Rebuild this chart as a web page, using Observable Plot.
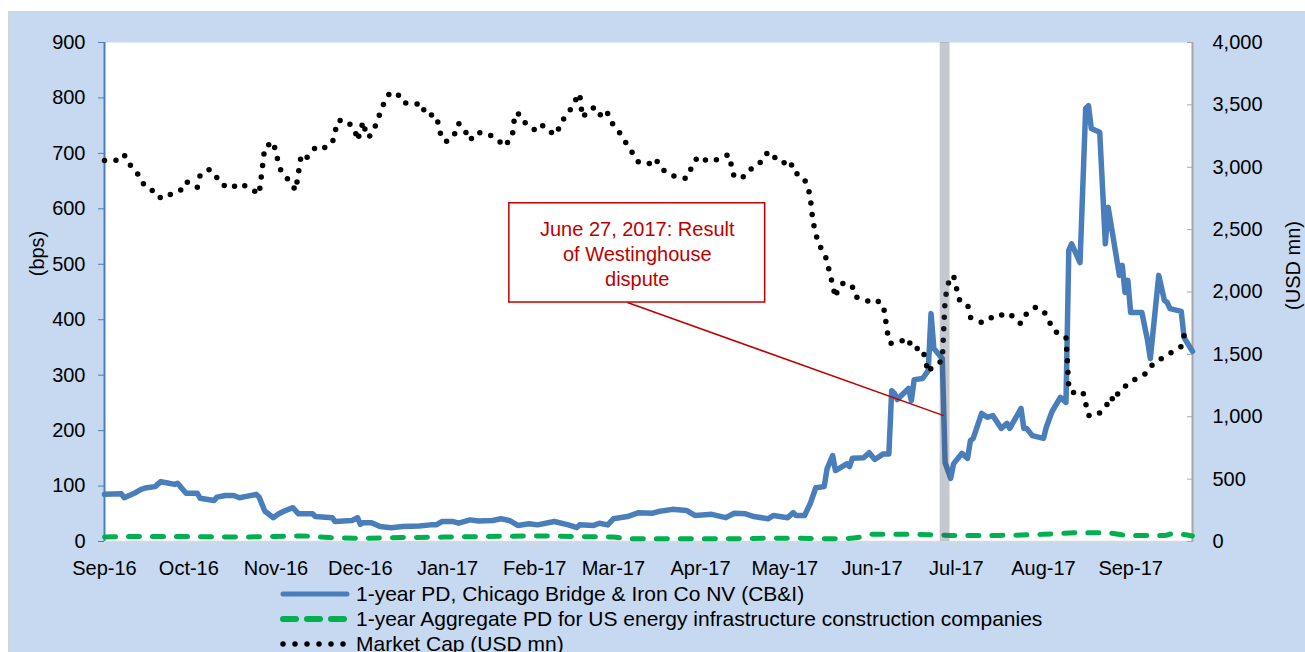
<!DOCTYPE html>
<html>
<head>
<meta charset="utf-8">
<script src="https://cdn.jsdelivr.net/npm/d3@7"></script>
<script src="https://cdn.jsdelivr.net/npm/@observablehq/plot@0.6"></script>
<style>
  html, body { margin: 0; padding: 0; background: #ffffff; width: 1305px; height: 652px; overflow: hidden; }
  #box { position: absolute; left: 8px; top: 11px; width: 1297px; height: 641px; background: #c6d9f1;
         box-shadow: inset 1px 1px 0 #d4d4d4; font-family: "Liberation Sans", Arial, sans-serif; }
  #chart { position: absolute; left: 0; top: 0; }
  #legend { position: absolute; left: 272px; top: 570px; font-size: 21px; color: #000; }
  .row { display: flex; align-items: center; height: 25px; white-space: nowrap; }
  .row svg { width: 70px; height: 12px; margin-right: 6px; flex: none; }
</style>
</head>
<body>
<div id="box">
  <div id="chart"></div>
  <div id="legend"></div>
</div>
<script>
// ---------- Data ----------
const seriesNames = [
  "1-year PD, Chicago Bridge & Iron Co NV (CB&I)",
  "1-year Aggregate PD for US energy infrastructure construction companies",
  "Market Cap (USD mn)"
];

const pdDates = [
  "2016-09-01","2016-09-07","2016-09-08","2016-09-12","2016-09-14","2016-09-16","2016-09-19","2016-09-21","2016-09-23","2016-09-26",
  "2016-09-27","2016-09-30","2016-10-04","2016-10-05","2016-10-10","2016-10-11","2016-10-14","2016-10-17","2016-10-19","2016-10-21",
  "2016-10-25","2016-10-26","2016-10-28","2016-10-31","2016-11-02","2016-11-04","2016-11-07","2016-11-09","2016-11-14","2016-11-15",
  "2016-11-21","2016-11-22","2016-11-28","2016-11-30","2016-12-01","2016-12-02","2016-12-05","2016-12-08","2016-12-12","2016-12-16",
  "2016-12-22","2016-12-26","2016-12-28","2016-12-30","2017-01-03","2017-01-05","2017-01-09","2017-01-12","2017-01-17","2017-01-20",
  "2017-01-23","2017-01-26","2017-01-30","2017-02-02","2017-02-08","2017-02-13","2017-02-16","2017-02-17","2017-02-22","2017-02-24",
  "2017-02-27","2017-03-01","2017-03-06","2017-03-10","2017-03-15","2017-03-17","2017-03-22","2017-03-27","2017-03-30","2017-04-05",
  "2017-04-10","2017-04-13","2017-04-17","2017-04-20","2017-04-25","2017-04-27","2017-05-02","2017-05-04","2017-05-05","2017-05-08",
  "2017-05-10","2017-05-12","2017-05-15","2017-05-16","2017-05-18","2017-05-19","2017-05-23","2017-05-24","2017-05-25","2017-05-29",
  "2017-05-31","2017-06-02","2017-06-05","2017-06-07","2017-06-08","2017-06-09","2017-06-10","2017-06-14","2017-06-15","2017-06-16",
  "2017-06-19","2017-06-21","2017-06-22","2017-06-23","2017-06-26","2017-06-27","2017-06-29","2017-06-30","2017-07-03","2017-07-05",
  "2017-07-06","2017-07-07","2017-07-10","2017-07-12","2017-07-14","2017-07-17","2017-07-19","2017-07-20","2017-07-24","2017-07-25",
  "2017-07-26","2017-07-28","2017-08-01","2017-08-02","2017-08-04","2017-08-07","2017-08-09","2017-08-10","2017-08-11","2017-08-14",
  "2017-08-16","2017-08-17","2017-08-18","2017-08-21","2017-08-23","2017-08-24","2017-08-28","2017-08-29","2017-08-30","2017-08-31",
  "2017-09-01","2017-09-05","2017-09-07","2017-09-08","2017-09-11","2017-09-13","2017-09-14","2017-09-15","2017-09-19","2017-09-20",
  "2017-09-23"
];
const pdValues = [
  85,86,79,88,94,97,99,108,106,103,
  105,87,87,78,74,80,83,83,79,81,
  85,80,55,43,50,55,61,50,50,45,
  43,36,38,43,31,34,34,27,25,27,
  28,30,30,36,36,33,39,37,38,41,
  38,29,32,30,36,30,25,30,29,33,
  30,41,45,52,51,54,58,56,47,49,
  43,51,50,45,41,47,43,52,47,47,
  68,97,99,131,155,128,140,135,150,151,
  160,148,158,158,272,267,256,276,254,292,
  294,308,411,348,330,142,114,140,159,150,
  182,186,231,224,227,204,213,204,240,204,
  204,191,186,206,234,260,251,525,537,503,
  781,786,745,738,537,603,480,498,449,471,
  413,413,363,330,480,435,431,420,415,368,
  343
];

const aggDates = [
  "2016-09-01","2016-09-15","2016-10-01","2016-10-15","2016-11-01","2016-11-10","2016-11-20","2016-12-01","2016-12-15","2017-01-01",
  "2017-01-15","2017-02-01","2017-02-15","2017-03-01","2017-03-06","2017-03-20","2017-04-10","2017-05-01","2017-05-20","2017-05-28",
  "2017-06-01","2017-06-15","2017-07-01","2017-07-15","2017-08-01","2017-08-15","2017-08-22","2017-09-01","2017-09-13","2017-09-16",
  "2017-09-23"
];
const aggValues = [
  8,9,9,8,9,10,7,6,7,8,
  9,10,9,8,5,5,5,6,5,8,
  13,13,11,11,13,16,16,11,11,14,
  10
];

const capDates = [
  "2016-09-01","2016-09-05","2016-09-08","2016-09-09","2016-09-12","2016-09-14","2016-09-16","2016-09-20","2016-09-21","2016-09-23",
  "2016-09-26","2016-09-28","2016-09-30","2016-10-04","2016-10-05","2016-10-08","2016-10-10","2016-10-12","2016-10-16","2016-10-19",
  "2016-10-23","2016-10-26","2016-10-28","2016-10-31","2016-11-01","2016-11-02","2016-11-03","2016-11-06","2016-11-08","2016-11-10",
  "2016-11-12","2016-11-15","2016-11-17","2016-11-21","2016-11-23","2016-11-26","2016-11-29","2016-11-30","2016-12-02","2016-12-03",
  "2016-12-04","2016-12-06","2016-12-09","2016-12-11","2016-12-14","2016-12-16","2016-12-20","2016-12-23","2016-12-24","2016-12-28",
  "2016-12-30","2017-01-01","2017-01-04","2017-01-05","2017-01-07","2017-01-09","2017-01-11","2017-01-15","2017-01-19","2017-01-21",
  "2017-01-24","2017-01-25","2017-01-27","2017-01-29","2017-02-02","2017-02-04","2017-02-07","2017-02-09","2017-02-10","2017-02-13",
  "2017-02-15","2017-02-17","2017-02-18","2017-02-21","2017-02-23","2017-02-25","2017-02-27","2017-03-01","2017-03-04","2017-03-06",
  "2017-03-08","2017-03-10","2017-03-14","2017-03-16","2017-03-18","2017-03-21","2017-03-24","2017-03-27","2017-03-29","2017-03-31",
  "2017-04-04","2017-04-07","2017-04-11","2017-04-12","2017-04-13","2017-04-17","2017-04-20","2017-04-23","2017-04-25","2017-04-27",
  "2017-04-30","2017-05-03","2017-05-04","2017-05-07","2017-05-09","2017-05-10","2017-05-11","2017-05-12","2017-05-13","2017-05-15",
  "2017-05-16","2017-05-17","2017-05-18","2017-05-19","2017-05-20","2017-05-22","2017-05-25","2017-05-26","2017-05-29","2017-05-31",
  "2017-06-02","2017-06-05","2017-06-07","2017-06-08","2017-06-11","2017-06-14","2017-06-15","2017-06-19","2017-06-21","2017-06-22",
  "2017-06-26","2017-06-27","2017-06-28","2017-06-29","2017-06-30","2017-07-01","2017-07-02","2017-07-04","2017-07-05","2017-07-06",
  "2017-07-10","2017-07-13","2017-07-15","2017-07-18","2017-07-20","2017-07-23","2017-07-24","2017-07-26","2017-07-29","2017-08-01",
  "2017-08-03","2017-08-05","2017-08-08","2017-08-09","2017-08-10","2017-08-11","2017-08-15","2017-08-16","2017-08-17","2017-08-20",
  "2017-08-23","2017-08-25","2017-08-26","2017-08-28","2017-08-30","2017-09-01","2017-09-04","2017-09-07","2017-09-09","2017-09-12",
  "2017-09-16","2017-09-19","2017-09-20"
];
const capValues = [
  3054,3054,3102,3038,2982,2894,2830,2798,2750,2766,
  2798,2814,2886,2838,2934,2982,2958,2870,2830,2870,
  2830,2782,3158,3206,3118,3022,2958,2886,2814,3102,
  3078,3158,3142,3190,3375,3375,3303,3214,3367,3271,
  3238,3311,3495,3583,3599,3519,3503,3511,3423,3415,
  3222,3206,3279,3351,3303,3214,3279,3271,3222,3166,
  3238,3431,3423,3343,3287,3335,3279,3263,3351,3431,
  3519,3591,3400,3471,3479,3391,3431,3335,3255,3174,
  3110,3038,3030,3070,2990,2942,2918,2910,3006,3086,
  3046,3062,3102,3014,2918,2926,3014,3046,3126,3086,
  3030,3054,2958,2934,2862,2766,2565,2469,2381,2317,
  2245,2148,2060,1956,2036,2076,2044,1964,1940,1924,
  1940,1900,1603,1587,1603,1627,1547,1547,1355,1387,
  1451,1940,2060,2116,2132,2036,1940,1908,1900,1796,
  1756,1796,1788,1828,1828,1756,1747,1828,1876,1852,
  1764,1683,1651,1640,1230,1194,1202,1106,1010,1010,
  1074,1162,1122,1210,1242,1283,1315,1355,1427,1467,
  1523,1563,1650
];

const xStart = "2016-09-01";
const xEnd = "2017-09-23";
const leftTicks = [0,100,200,300,400,500,600,700,800,900];
const rightTicks = [0,500,1000,1500,2000,2500,3000,3500,4000];
const leftMax = 900, rightMax = 4000;

const eventBand = {x1: "2017-06-25T06:00Z", x2: "2017-06-28T18:00Z"};
const noteText = "June 27, 2017: Result\nof Westinghouse\ndispute";
const noteBox = {x1: "2017-01-23", x2: "2017-04-24", y1: 431, y2: 610};
const noteLink = {x1: "2017-03-06", y1: 431, x2: "2017-06-26T12:00Z", y2: 227};

// ---------- Build ----------
const P = d3.isoParse;
const k = leftMax / rightMax;
const pd = pdDates.map((d, i) => ({date: P(d), value: pdValues[i]}));
const agg = aggDates.map((d, i) => ({date: P(d), value: aggValues[i]}));
const cap = capDates.map((d, i) => ({date: P(d), value: capValues[i]}));
const monthTicks = d3.utcMonth.range(P(xStart), d3.utcDay.offset(P(xEnd), 1));

const blue = "#4a7ebb", green = "#00b050", red = "#c00000";

const chart = Plot.plot({
  width: 1297, height: 575,
  marginLeft: 96, marginRight: 113, marginTop: 31, marginBottom: 45,
  style: {fontFamily: '"Liberation Sans", Arial, sans-serif', fontSize: "20px", background: "transparent", color: "#000", overflow: "visible"},
  x: {type: "utc", domain: [P(xStart), P(xEnd)]},
  y: {domain: [0, leftMax]},
  marks: [
    Plot.frame({fill: "white", stroke: "none"}),
    Plot.ruleY([0], {stroke: "#d9d9d9", strokeWidth: 1.5}),
    Plot.axisX({ticks: monthTicks, tickFormat: d3.utcFormat("%b-%y"), tickSize: 6, tickPadding: 13, stroke: "#d9d9d9", fill: "#000", label: null}),
    Plot.axisY({anchor: "left", ticks: leftTicks, tickFormat: d => String(d), tickSize: 6, tickPadding: 13, stroke: blue, fill: "#000", label: null}),
    Plot.axisY({anchor: "right", ticks: rightTicks.map(v => v * k), tickFormat: d => d3.format(",")(Math.round(d / k)), tickSize: -6, tickPadding: 26, stroke: "#a6a6a6", fill: "#000", label: null}),
    Plot.ruleX([P(xStart)], {stroke: blue, strokeWidth: 2}),
    Plot.ruleX([P(xEnd)], {stroke: "#a6a6a6", strokeWidth: 2}),
    Plot.line(pd, {x: "date", y: "value", stroke: blue, strokeWidth: 5.5, strokeLinejoin: "round", strokeLinecap: "round"}),
    Plot.line(agg, {x: "date", y: "value", stroke: green, strokeWidth: 5, strokeDasharray: "11 13", strokeLinecap: "round", strokeLinejoin: "round", curve: "monotone-x"}),
    Plot.line(cap, {x: "date", y: d => d.value * k, stroke: "#000", strokeWidth: 5.5, strokeDasharray: "0 11.5", strokeLinecap: "round", strokeLinejoin: "round"}),
    Plot.rect([eventBand], {x1: d => P(d.x1), x2: d => P(d.x2), y1: () => 0, y2: () => leftMax, fill: "#3f4a5f", fillOpacity: 0.3}),
    Plot.link([noteLink], {x1: d => P(d.x1), y1: "y1", x2: d => P(d.x2), y2: "y2", stroke: red, strokeWidth: 1.5}),
    Plot.rect([noteBox], {x1: d => P(d.x1), x2: d => P(d.x2), y1: "y1", y2: "y2", fill: "white", stroke: red, strokeWidth: 1.5}),
    Plot.text([noteBox], {x: d => new Date((+P(d.x1) + +P(d.x2)) / 2), y: d => (d.y1 + d.y2) / 2, text: () => noteText, fill: red, lineHeight: 1.25, textAnchor: "middle", lineAnchor: "middle"}),
    Plot.text(["(bps)"], {frameAnchor: "top-left", dx: -67, dy: 211, rotate: -90, text: d => d, textAnchor: "middle", lineAnchor: "middle"}),
    Plot.text(["(USD mn)"], {frameAnchor: "top-right", dx: 101, dy: 223, rotate: -90, text: d => d, textAnchor: "middle", lineAnchor: "middle"})
  ]
});
document.getElementById("chart").appendChild(chart);

// ---------- Legend ----------
const samples = [
  `<line x1="3" y1="6" x2="67" y2="6" stroke="${blue}" stroke-width="5" stroke-linecap="round"/>`,
  `<line x1="3" y1="6" x2="67" y2="6" stroke="${green}" stroke-width="6" stroke-dasharray="13 11" stroke-linecap="round"/>`,
  `<line x1="3" y1="6" x2="64" y2="6" stroke="#000" stroke-width="5.5" stroke-dasharray="0 12" stroke-linecap="round"/>`
];
const legend = document.getElementById("legend");
seriesNames.forEach((name, i) => {
  const row = document.createElement("div");
  row.className = "row";
  row.innerHTML = `<svg viewBox="0 0 70 12">${samples[i]}</svg><span></span>`;
  row.querySelector("span").textContent = name;
  legend.appendChild(row);
});
</script>
</body>
</html>
